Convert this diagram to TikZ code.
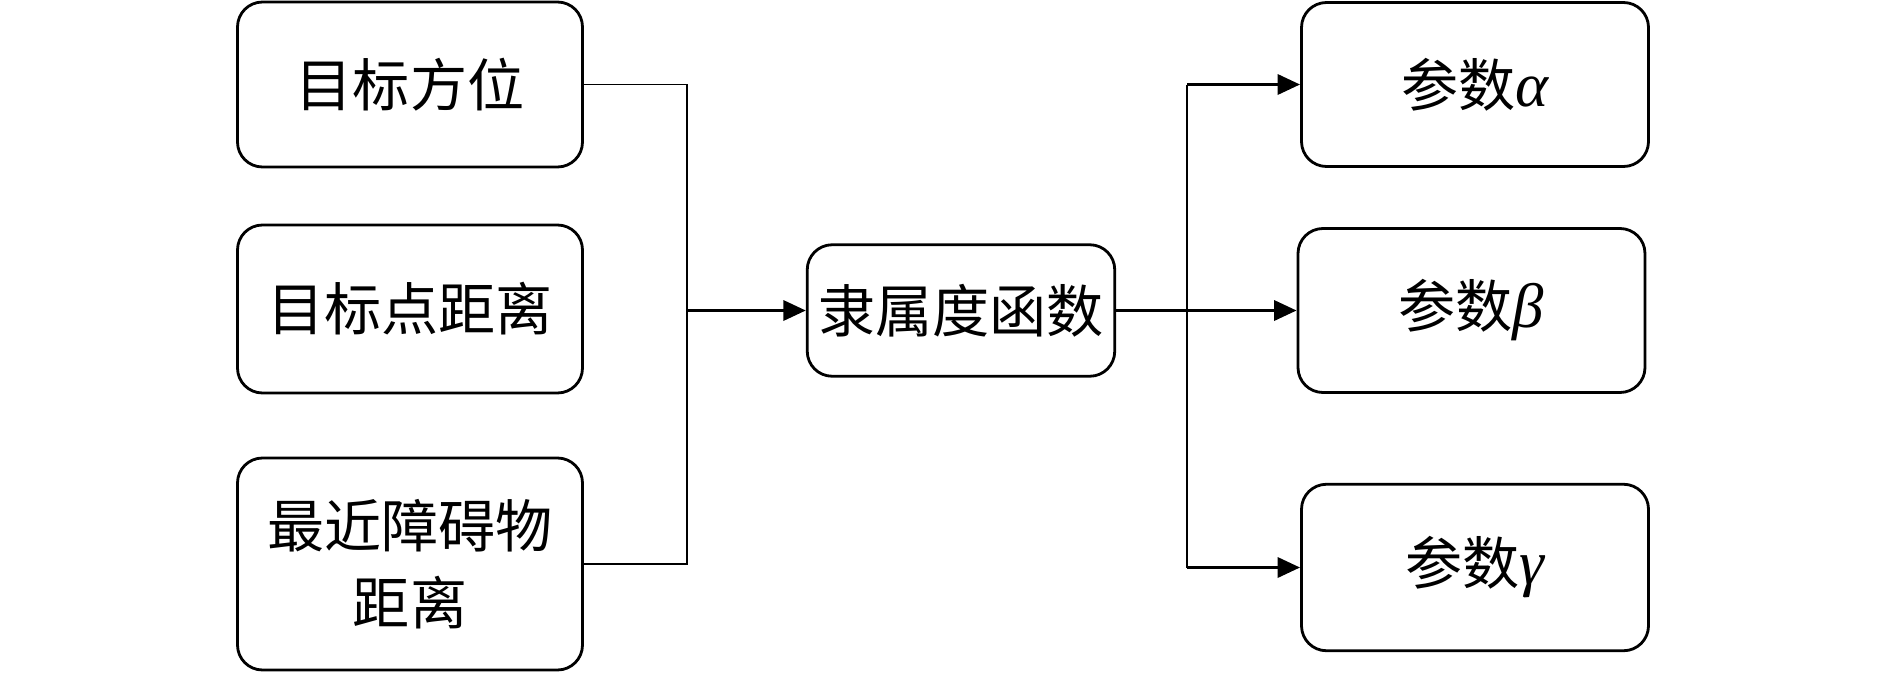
\documentclass[tikz,border=0pt]{standalone}
\usepackage{fontspec}
\setmainfont{Noto Sans CJK SC}
\newfontfamily\grk[Scale=1.1]{Liberation Serif}
\usetikzlibrary{arrows.meta}
\usetikzlibrary{positioning}

\begin{document}
\begin{tikzpicture}[
    box/.style={draw, line width=1.6pt, rounded corners=0.5cm, align=center, font=\fontsize{32.5}{44}\selectfont},
    link/.style={line width=1pt},
    arr/.style={line width=2pt, -{Triangle[length=0.45cm,width=0.4cm]}}]
\useasboundingbox (0,0) rectangle (37.8,-13.5);

\node[box, minimum width=6.9cm, minimum height=3.3cm] (In1) at (8.2,-1.69) {目标方位};
\node[box, minimum width=6.9cm, minimum height=3.36cm] (In2) at (8.2,-6.18) {目标点距离};
\node[box, minimum width=6.9cm, minimum height=4.24cm] (In3) at (8.2,-11.28) {最近障碍物\\距离};

\node[box, minimum width=6.15cm, minimum height=2.63cm] (Mf) at (19.22,-6.21) {隶属度函数};

\node[box, minimum width=6.94cm, minimum height=3.28cm] (Pa) at (29.5,-1.69) {参数{\grk\itshape α}};
\node[box, minimum width=6.94cm, minimum height=3.28cm] (Pb) at (29.43,-6.21) {参数{\grk\itshape β}};
\node[box, minimum width=6.94cm, minimum height=3.33cm] (Pc) at (29.5,-11.35) {参数{\grk\itshape γ}};

\coordinate (J1) at (13.74,-6.21);
\coordinate (J2) at (23.74,-6.21);

\draw[link] (In1.east) -| (J1) |- (In3.east);
\draw[arr] (J1) -- (Mf.west);

\draw[arr] (Mf.east) -- (Pb.west);
\draw[link] (J2 |- Pa.west) -- (J2 |- Pc.west);
\draw[arr] (J2 |- Pa.west) -- (Pa.west);
\draw[arr] (J2 |- Pc.west) -- (Pc.west);

\end{tikzpicture}
\end{document}
